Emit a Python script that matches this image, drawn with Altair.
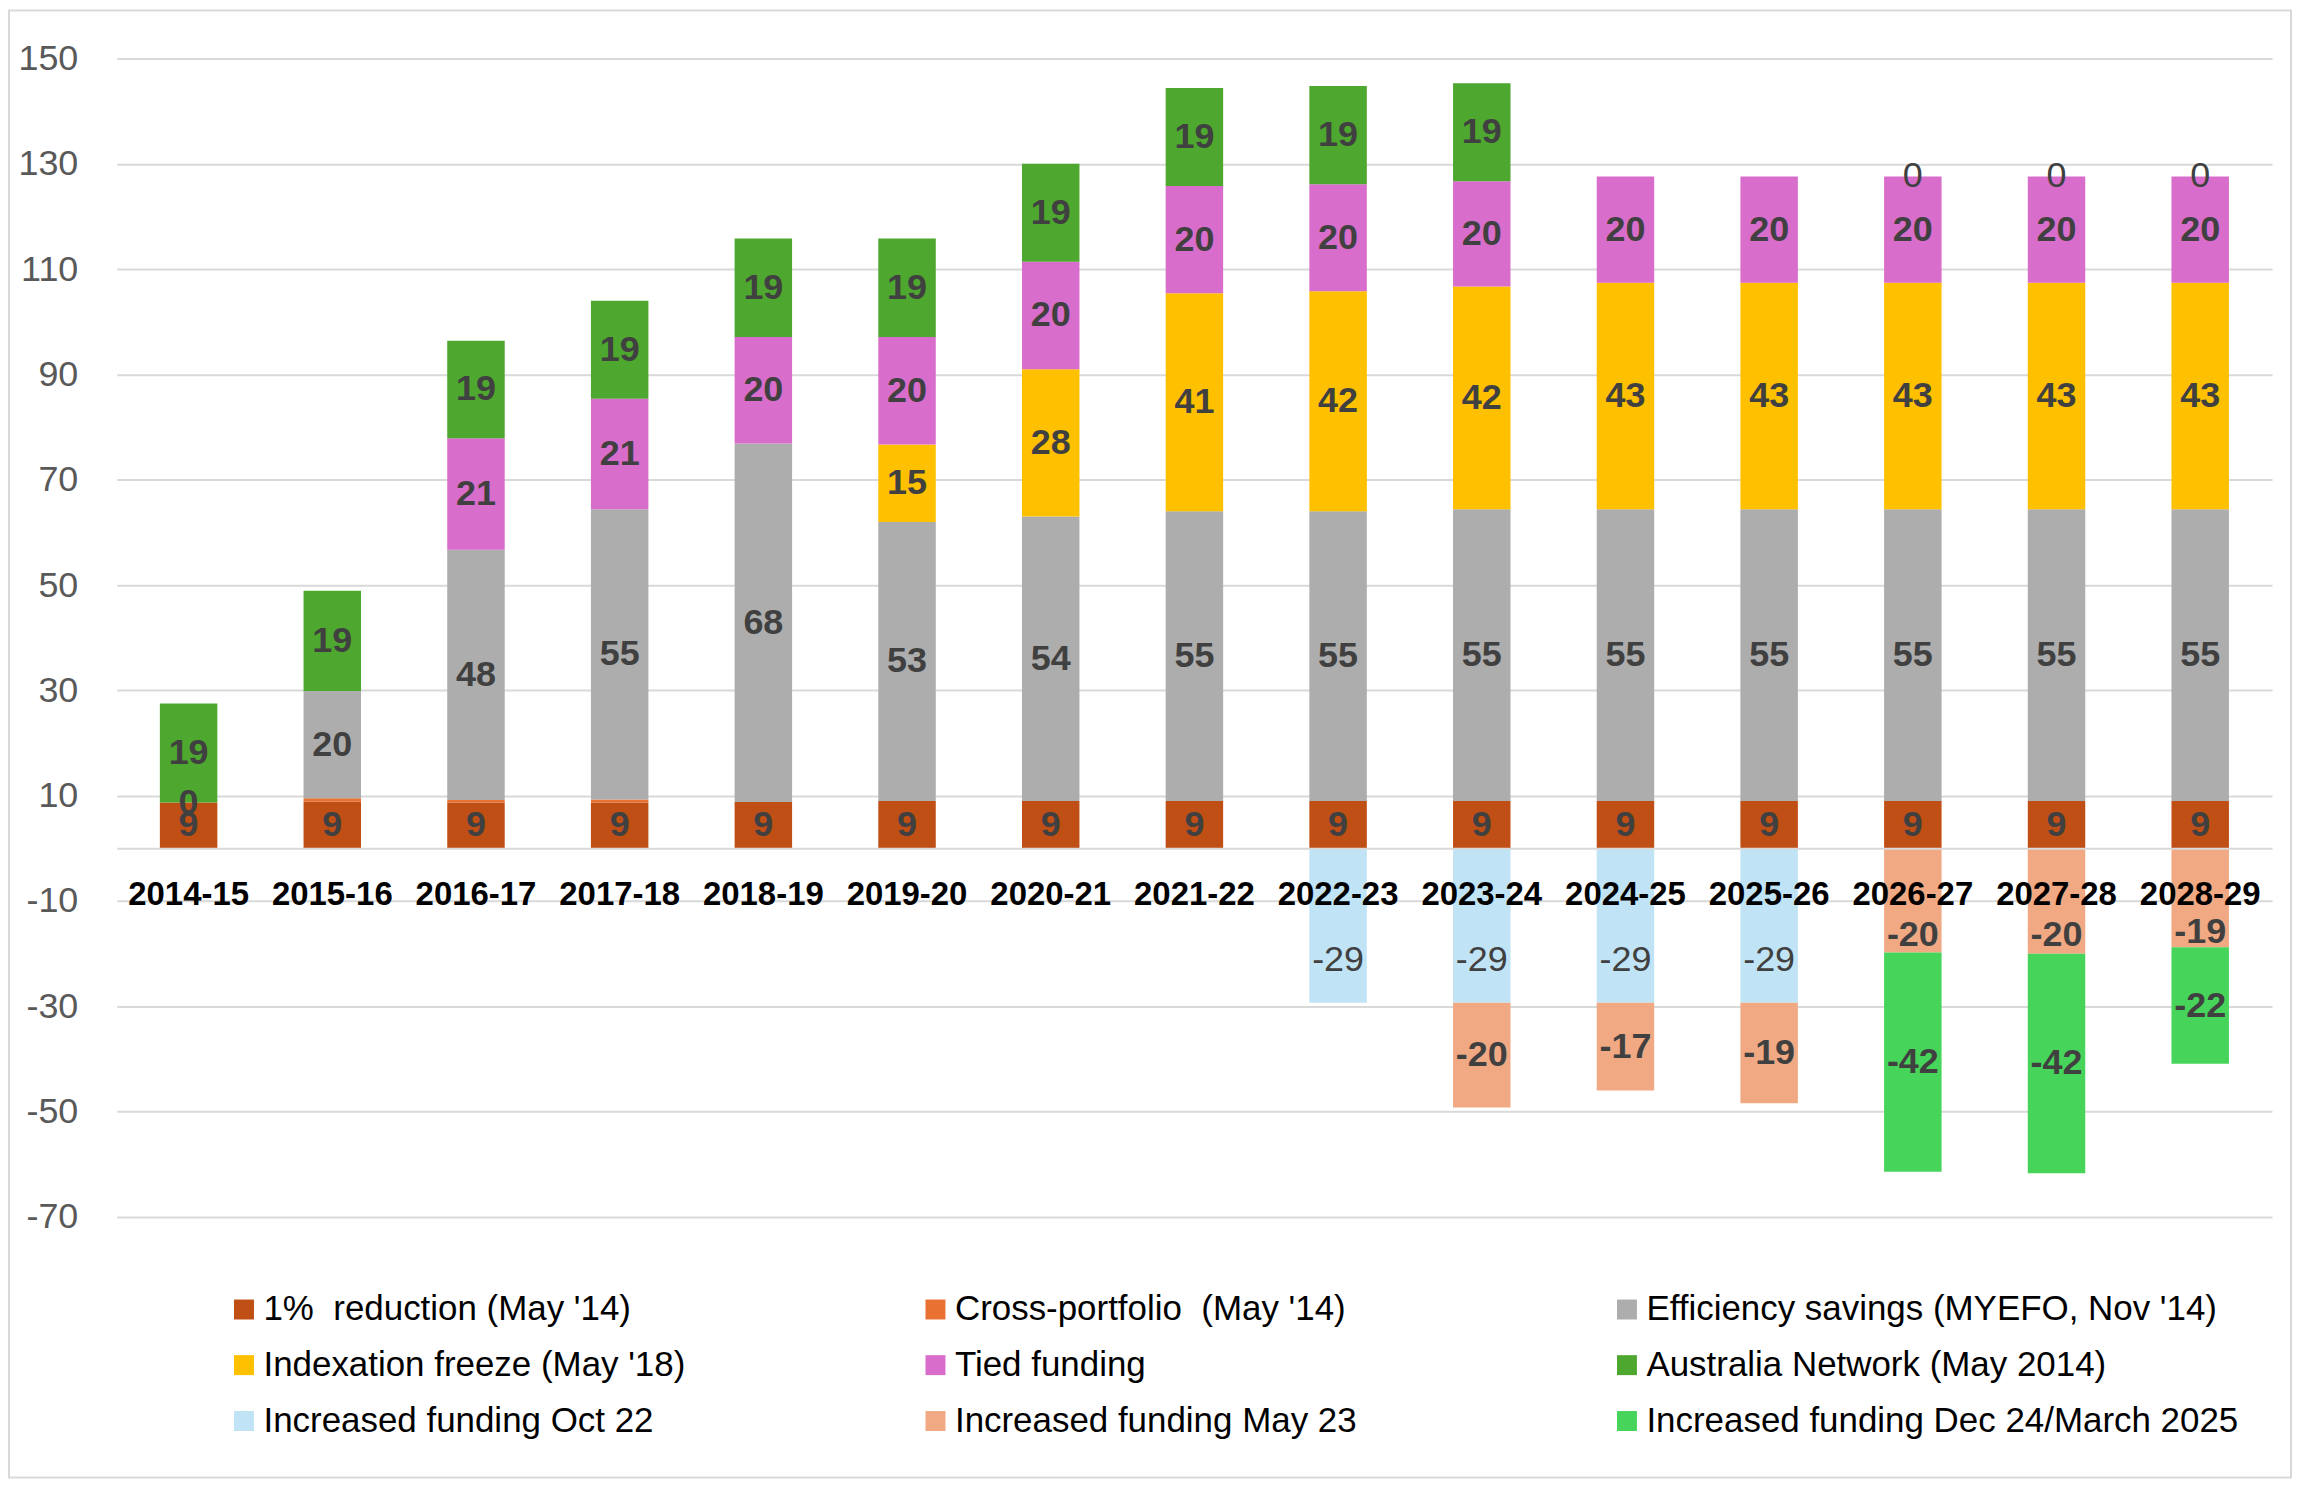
import altair as alt
import pandas as pd

years = ["2014-15", "2015-16", "2016-17", "2017-18", "2018-19", "2019-20", "2020-21",
         "2021-22", "2022-23", "2023-24", "2024-25", "2025-26", "2026-27", "2027-28", "2028-29"]

series = ["1%\u00a0 reduction (May '14)", "Cross-portfolio\u00a0 (May '14)",
          "Efficiency savings (MYEFO, Nov '14)", "Indexation freeze (May '18)",
          "Tied funding", "Australia Network (May 2014)", "Increased funding Oct 22",
          "Increased funding May 23", "Increased funding Dec 24/March 2025"]

colors = ["#C04F15", "#E97132", "#ADADAD", "#FFC000", "#D86DCB", "#4EA72E",
          "#C0E4F5", "#F1A983", "#47D45A"]

one_pct = [8.7, 8.9, 8.7, 8.7, 8.8, 9.0, 9.0, 9.0, 9.0, 9.0, 9.0, 9.0, 9.0, 9.0, 9.0]
cross = [None, 0.6, 0.5, 0.6, None, None, None, None, None, None, None, None, None, None, None]
efficiency = [0, 20.4, 47.5, 55.1, 68.1, 53.0, 54.0, 55.0, 55.0, 55.4, 55.4, 55.4, 55.4, 55.4, 55.4]
indexation = [None, None, None, None, None, 14.7, 28.0, 41.4, 41.8, 42.3, 43.0, 43.0, 43.0, 43.0, 43.0]
tied = [None, None, 21.2, 21.0, 20.2, 20.4, 20.4, 20.4, 20.3, 20.0, 20.2, 20.2, 20.2, 20.2, 20.2]
aus_network = [18.8, 19.0, 18.5, 18.6, 18.7, 18.7, 18.6, 18.6, 18.7, 18.6, None, None, None, None, None]
oct22 = [None, None, None, None, None, None, None, None, -29.3, -29.3, -29.3, -29.3, 0, 0, 0]
may23 = [None, None, None, None, None, None, None, None, None, -19.9, -16.7, -19.1, -19.8, -20.0, -18.8]
dec24 = [None, None, None, None, None, None, None, None, None, None, None, None, -41.6, -41.7, -22.1]

values = [one_pct, cross, efficiency, indexation, tied, aus_network, oct22, may23, dec24]
show_labels = [True, False, True, True, True, True, True, True, True]
bold_labels = [True, True, True, True, True, True, False, True, True]

y_ticks = [-70, -50, -30, -10, 10, 30, 50, 70, 90, 110, 130, 150]
y_min, y_max = -70, 150
label_band = -13  # negative labels are kept below the category labels

rows = []
for yi, yr in enumerate(years):
    pos, neg = 0.0, 0.0
    for si, s in enumerate(series):
        v = values[si][yi]
        if v is None:
            continue
        if v >= 0:
            y0, y1 = pos, pos + v
            pos = y1
            ly = (y0 + y1) / 2
        else:
            y0, y1 = neg, neg + v
            neg = y1
            top = min(y0, label_band)
            ly = (top + y1) / 2 if y1 < top else (y0 + y1) / 2
        r = int(abs(v) + 0.5) * (1 if v >= 0 else -1)
        rows.append(dict(year=yr, series=s, order=si, value=v, y0=y0, y1=y1, ly=ly,
                         label=str(r), show=show_labels[si], bold=bold_labels[si]))
df = pd.DataFrame(rows)

W, H = 2160, 1161
FONT = "Liberation Sans"

x_enc = alt.X("year:N", sort=years,
              scale=alt.Scale(paddingInner=0.6, paddingOuter=0.3),
              axis=alt.Axis(title=None, labelAngle=0, labelFont=FONT, labelFontSize=33,
                            labelFontWeight="bold", labelColor="#000000", ticks=False,
                            domain=True, domainColor="#D9D9D9", domainWidth=2,
                            offset=-H * (0 - y_min) / (y_max - y_min), labelPadding=30,
                            zindex=1, grid=False))
y_scale = alt.Scale(domain=[y_min, y_max], nice=False, zero=False)

base = alt.Chart(df)

bars = base.mark_bar().encode(
    x=x_enc,
    y=alt.Y("y0:Q", scale=y_scale,
            axis=alt.Axis(title=None, values=y_ticks, labelFont=FONT, labelFontSize=36,
                          labelColor="#595959", ticks=False, domain=False, grid=True,
                          gridColor="#D9D9D9", gridWidth=2, labelPadding=39,
                          labelExpr="'' + datum.value")),
    y2="y1:Q",
    color=alt.Color("series:N",
                    scale=alt.Scale(domain=series, range=colors),
                    legend=alt.Legend(title=None, orient="none", legendX=110, legendY=1236,
                                      columns=3, direction="horizontal", symbolType="square",
                                      symbolSize=400, symbolStrokeWidth=0, labelFont=FONT,
                                      labelFontSize=35, labelColor="#000000", labelOffset=2,
                                      columnPadding=62, rowPadding=20, gridAlign="all",
                                      labelLimit=800, padding=0)),
)

bold_text = base.transform_filter("datum.show && datum.bold").mark_text(
    font=FONT, fontSize=36, fontWeight="bold", color="#404040", baseline="middle"
).encode(x=alt.X("year:N", sort=years), y=alt.Y("ly:Q", scale=y_scale), text="label:N")

reg_text = base.transform_filter("datum.show && !datum.bold").mark_text(
    font=FONT, fontSize=36, fontWeight="normal", color="#404040", baseline="middle"
).encode(x=alt.X("year:N", sort=years), y=alt.Y("ly:Q", scale=y_scale), text="label:N")

border = alt.Chart(pd.DataFrame({"a": [0]})).mark_rect(
    fillOpacity=0, stroke="#D9D9D9", strokeWidth=2
).encode(x=alt.value(-108), x2=alt.value(W + 19), y=alt.value(-48), y2=alt.value(H + 261))

chart = alt.layer(border, bars, bold_text, reg_text).properties(
    width=W, height=H, padding=0, background="white"
).configure_view(strokeWidth=0)

chart.save("out.html", embed_options={"renderer": "svg", "actions": False})
